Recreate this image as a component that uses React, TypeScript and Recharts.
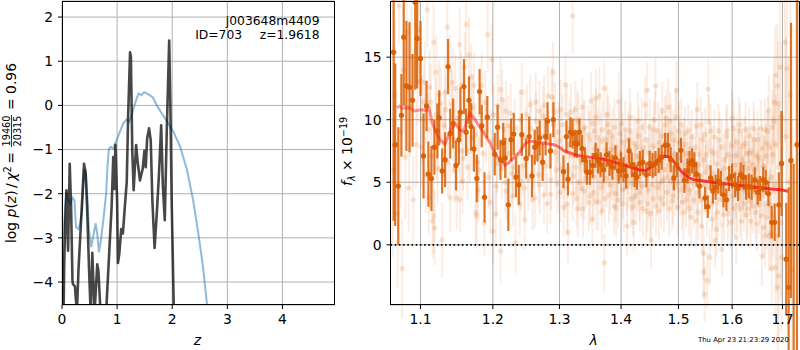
// App.tsx
import React from 'react'
import {
  CartesianGrid,
  ComposedChart,
  ErrorBar,
  Line,
  ReferenceLine,
  Scatter,
  XAxis,
  YAxis,
  ZAxis
} from 'recharts'

// p(z) panel, [z, log p]
const pzPoints = [
  [0, -7], [0.02, -5.5], [0.04, -3.6], [0.06, -2.6], [0.08, -1.92], [0.11, -3.29], [0.14, -1.32], [0.165, -2.3],
  [0.19, -3.97], [0.2, -4.05], [0.235, -4.1], [0.27, -4.7], [0.3, -3.7], [0.34, -2.76], [0.4, -1.32], [0.43, -1.55],
  [0.455, -2.3], [0.49, -3.67], [0.52, -4.7], [0.55, -3.34], [0.59, -4.7], [0.64, -3.6], [0.66, -3.74], [0.7, -4.7],
  [0.8, -4.7], [0.9, -2.3], [0.93, -1.17], [0.95, -1.89], [0.97, -0.89], [1.0, -2.15], [1.015, -3.57], [1.04, -3.36],
  [1.075, -2.8], [1.105, -2.9], [1.14, -2.3], [1.175, -1.73], [1.2, -0.26], [1.235, 1.2], [1.25, 1.1], [1.275, -1.0],
  [1.3, -1.92], [1.345, -0.9], [1.37, -1.24], [1.415, -1.7], [1.465, -1.43], [1.495, -1.03], [1.52, -1.4], [1.545, -0.75],
  [1.58, -0.52], [1.61, -0.79], [1.64, -2.15], [1.68, -3.23], [1.72, -2.45], [1.76, -1.55], [1.8, -0.45], [1.83, -1.81],
  [1.865, -2.6], [1.9, -0.64], [1.945, 1.47], [1.965, 0.12], [1.99, -2.15], [2.03, -4.7], [2.06, -7]
]

// smooth prior curve, [z, log p]
const priorPoints = [
  [0, -5.5], [0.02, -3.06], [0.05, -2.45], [0.08, -1.96], [0.115, -2.15], [0.15, -2.23], [0.19, -2.09], [0.225, -2.15],
  [0.255, -2.76], [0.3, -2.8], [0.335, -2.64], [0.365, -2.38], [0.4, -1.47], [0.43, -1.47], [0.46, -2.08], [0.49, -2.83],
  [0.53, -3.21], [0.565, -2.98], [0.61, -2.67], [0.64, -2.91], [0.67, -3.33], [0.705, -3.06], [0.75, -2.6], [0.8, -2],
  [0.825, -1.4], [0.85, -0.98], [0.89, -0.94], [0.93, -0.98], [0.99, -0.79], [1.05, -0.6], [1.11, -0.41], [1.17, -0.32],
  [1.22, -0.37], [1.265, -0.22], [1.315, 0], [1.355, 0.16], [1.39, 0.27], [1.44, 0.23], [1.49, 0.3], [1.57, 0.25],
  [1.65, 0.18], [1.72, 0], [1.81, -0.18], [1.9, -0.35], [2.025, -0.6], [2.145, -0.94], [2.27, -1.47], [2.38, -2.15],
  [2.48, -2.95], [2.56, -3.67], [2.63, -4.5], [2.68, -5]
]

// faint individual beams, [lambda, flux, err]
const faintPoints = [
  [1.064, 6, 7], [1.067, 12, 6], [1.07, 2.5, 6], [1.072, 19.1, 3], [1.074, 9, 6], [1.076, -1.9, 4], [1.078, 14, 5],
  [1.08, 7, 5], [1.082, 17, 5], [1.0845, 4.55, 3.5], [1.086, 11, 4], [1.088, 15, 4], [1.0905, 3.6, 3.5], [1.0945, 8, 3.5],
  [1.096, 13, 3.5], [1.098, 17.2, 3.5], [1.102, 10, 3.5], [1.106, 13, 3.2], [1.109, 18.8, 3], [1.1135, 11.4, 3],
  [1.116, 1.9, 3], [1.1175, 2.3, 3], [1.1175, 16.2, 3], [1.1188, 1.35, 3], [1.122, 8, 2.8], [1.125, 12, 2.8], [1.129, 0.4, 3],
  [1.132, 9.5, 2.8], [1.136, 17.4, 3], [1.139, 14, 2.8], [1.14, 3.75, 2.8], [1.143, 13, 2.8], [1.146, 6, 2.6], [1.1488, 3.75, 2.6],
  [1.1533, 3.6, 2.6], [1.153, 16, 3], [1.156, 7.5, 2.6], [1.16, 14.2, 2.8], [1.162, 17.6, 3], [1.164, 6.2, 2.6], [1.166, 15.2, 3],
  [1.17, 8.5, 2.6], [1.173, 12.75, 2.6], [1.1755, 2.6, 2.6], [1.1765, 2.35, 2.6], [1.18, 6, 2.6], [1.184, 12.75, 2.6], [1.188, 1.75, 2.6],
  [1.1925, 16.8, 3], [1.1985, 14.8, 2.8], [1.2, 1.1, 2.6], [1.204, 2.45, 2.6], [1.206, 6.5, 2.4], [1.2112, 12.4, 2.6], [1.2112, -0.5, 2.6],
  [1.2135, 11.6, 2.4], [1.218, 5, 2.4], [1.222, 9.5, 2.4], [1.226, 10.5, 2.4], [1.23, 6.2, 2.4], [1.233, 0.15, 2.4], [1.2395, 3.25, 2.4],
  [1.2425, 12.2, 2.4], [1.2468, 2, 2.4], [1.2468, 4.55, 2.4], [1.25, 10.4, 2.4], [1.2585, 3.6, 2.4], [1.262, 3.75, 2.4], [1.2635, 11.4, 2.4],
  [1.267, 7, 2.4], [1.27, 4.8, 2.4], [1.2765, 11.15, 2.4], [1.276, 4, 2.4], [1.2825, 11.9, 2.4], [1.286, 4.05, 2.4], [1.288, 11.8, 2.4],
  [1.29, 13.8, 2.4], [1.295, 6, 2.4], [1.298, 9, 2.4], [1.302, 10.8, 2.4], [1.3065, 3, 2.4], [1.3095, 12.8, 2.4], [1.312, 3.25, 2.4],
  [1.3135, 1, 2.4], [1.315, 8, 2.4], [1.318, 10.6, 2.3], [1.3207, 18.3, 3], [1.322, 5.5, 2.3], [1.325, 10.8, 2.3], [1.327, 3.7, 2.3],
  [1.33, 9.8, 2.3], [1.332, 7, 2.3], [1.3345, 4.5, 2.3], [1.3373, 2.9, 2.3], [1.34, 9.4, 2.3], [1.342, 5.3, 2.3], [1.3467, 3.4, 2.3],
  [1.348, 8.4, 2.3], [1.35, 11.5, 2.3], [1.3525, 2.05, 2.3], [1.354, 4.2, 2.3], [1.356, 9.1, 2.3], [1.3585, 11.7, 2.3], [1.36, 6, 2.3],
  [1.362, 3.4, 2.3], [1.364, 11.9, 2.3], [1.366, 8.3, 2.3], [1.368, 2.7, 2.3], [1.37, 5, 2.3], [1.372, 12.5, 2.3], [1.372, -1.45, 2.3],
  [1.375, 7.6, 2.3], [1.378, 9.6, 2.3], [1.38, 4, 2.3], [1.383, 6.4, 2.3], [1.386, 8.7, 2.3], [1.388, 3.1, 2.3], [1.3915, 2.95, 2.3],
  [1.393, 5.4, 2.3], [1.396, 11.45, 2.3], [1.398, 7.3, 2.3], [1.401, 9.7, 2.3], [1.403, 4.4, 2.3], [1.406, 6.6, 2.3], [1.41, 1.5, 2.3],
  [1.412, 8.4, 2.3], [1.415, 10.2, 2.3], [1.417, 3.7, 2.3], [1.4215, 1.8, 2.3], [1.423, 5.3, 2.3], [1.426, 7.8, 2.3], [1.429, 9.9, 2.3],
  [1.431, 4.2, 2.3], [1.434, 6.2, 2.3], [1.437, 2.9, 2.3], [1.441, 11.2, 2.3], [1.4445, 12.35, 2.3], [1.445, 3.3, 2.3], [1.448, 7.4, 2.3],
  [1.4518, 0.35, 2.3], [1.453, 4.8, 2.3], [1.456, 9.2, 2.3], [1.4593, 12.7, 2.3], [1.46, 3.1, 2.3], [1.463, 5.9, 2.3], [1.466, 8.2, 2.3],
  [1.469, 3.7, 2.3], [1.4712, 10.7, 2.3], [1.473, 5.2, 2.3], [1.476, 9.6, 2.3], [1.479, 4.2, 2.3], [1.4816, 11, 2.3], [1.484, 6.4, 2.3],
  [1.487, 8.9, 2.3], [1.49, 3.9, 2.3], [1.493, 7.3, 2.3], [1.4965, 12.35, 2.3], [1.498, 5, 2.3], [1.501, 9.1, 2.3], [1.504, 6.8, 2.2],
  [1.507, 3.4, 2.2], [1.51, 8, 2.2], [1.513, 4.7, 2.2], [1.516, 6, 2.2], [1.519, 2.9, 2.2], [1.522, 7.7, 2.2], [1.525, 5, 2.2],
  [1.5325, 1.9, 2.2], [1.5345, 10.8, 2.2], [1.537, 6.4, 2.2], [1.5425, 1.5, 2.2], [1.544, 8.4, 2.2], [1.546, -0.7, 2.2], [1.546, -2.15, 2.2],
  [1.548, -3.95, 2.2], [1.55, 5.8, 2.2], [1.553, -2.85, 2.2], [1.5547, 12.45, 2.4], [1.5575, -1, 2.2], [1.559, 9.1, 2.2], [1.5618, 2.05, 2.2],
  [1.565, 7.3, 2.2], [1.568, 0.35, 2.2], [1.5705, 1.25, 2.2], [1.573, 5.4, 2.2], [1.576, 8.4, 2.2], [1.5805, -0.35, 2.2], [1.583, 3.6, 2.2],
  [1.586, 6.1, 2.2], [1.589, 8.7, 2.2], [1.592, 2.5, 2.2], [1.595, 5, 2.2], [1.6, 10.15, 2.2], [1.602, 3.9, 2.2], [1.605, 7.1, 2.2],
  [1.608, 0.6, 2.2], [1.611, 5.8, 2.2], [1.6136, 9.6, 2.2], [1.616, 2.9, 2.2], [1.619, 6.8, 2.2], [1.622, 4.4, 2.2], [1.625, 8.1, 2.2],
  [1.628, 2.4, 2.2], [1.631, 5.4, 2.2], [1.634, 7.3, 2.2], [1.637, 3.5, 2.2], [1.64, 6.4, 2.2], [1.643, 8.4, 2.2], [1.646, 2.6, 2.2],
  [1.649, 5.2, 2.2], [1.652, 7, 2.4], [1.655, 4, 2.4], [1.6585, -0.9, 2.4], [1.661, 6.3, 2.5], [1.665, 0.7, 2.5], [1.668, 8.1, 2.6],
  [1.672, 10.75, 2.8], [1.6725, 0.7, 2.8], [1.675, 3.2, 2.8], [1.678, -1.9, 3], [1.679, 9.4, 3], [1.683, 11.4, 3.5], [1.6855, 13.55, 4],
  [1.6855, -1.8, 4], [1.6895, 12.7, 5], [1.69, -3.4, 5], [1.691, 11.3, 5], [1.692, -2.5, 5], [1.698, 10.2, 6], [1.698, -1, 6],
  [1.705, 16.2, 8], [1.707, 8.65, 8], [1.709, 14.1, 9], [1.712, 5, 10], [1.716, 12, 12], [1.72, -2, 12]
]

// the dense part of the beam cloud, same columns
const faintCloud = [
  [1.101, 7.8, 3.2], [1.104, 11.4, 3.1], [1.107, 5.6, 3.1], [1.11, 9.2, 3], [1.112, 12.6, 3], [1.115, 7.1, 3], [1.12, 10.4, 2.9], [1.123, 6.1, 2.9],
  [1.127, 11.3, 2.9], [1.13, 8.2, 2.8], [1.134, 10.8, 2.8], [1.137, 6.6, 2.8], [1.142, 11.2, 2.7], [1.145, 8.4, 2.7], [1.15, 10.1, 2.7], [1.155, 12.8, 2.7],
  [1.158, 6.9, 2.6], [1.161, 9.9, 2.6], [1.167, 7.5, 2.6], [1.171, 11, 2.6], [1.175, 8.8, 2.6], [1.178, 6.6, 2.6], [1.182, 10.4, 2.5], [1.186, 7.3, 2.5],
  [1.19, 9.1, 2.5], [1.194, 5.4, 2.5], [1.197, 8.3, 2.5], [1.201, 10.4, 2.5], [1.205, 4.7, 2.4], [1.209, 8, 2.4], [1.213, 6.1, 2.4], [1.216, 9.2, 2.4],
  [1.22, 4.3, 2.4], [1.224, 7.3, 2.4], [1.228, 5.7, 2.4], [1.232, 9.3, 2.4], [1.236, 7.2, 2.4], [1.24, 10, 2.4], [1.244, 6.3, 2.4], [1.248, 8.5, 2.4],
  [1.252, 5.2, 2.4], [1.256, 9.3, 2.4], [1.26, 6.9, 2.4], [1.264, 9.9, 2.4], [1.268, 5.6, 2.4], [1.272, 8.7, 2.4], [1.275, 10.3, 2.4], [1.279, 6.3, 2.4],
  [1.283, 8.4, 2.4], [1.287, 5.2, 2.4], [1.291, 9.6, 2.4], [1.294, 7.4, 2.4], [1.297, 4.9, 2.4], [1.3, 8.3, 2.4], [1.303, 6.1, 2.4], [1.305, 9.6, 2.4],
  [1.308, 4.6, 2.4], [1.31, 7.4, 2.4], [1.313, 6, 2.3], [1.316, 9.3, 2.3], [1.319, 7.1, 2.3], [1.321, 4.1, 2.3], [1.323, 8.8, 2.3], [1.326, 6.2, 2.3],
  [1.328, 10, 2.3], [1.331, 5, 2.3], [1.333, 8.2, 2.3], [1.335, 6.6, 2.3], [1.338, 9.2, 2.3], [1.339, 4.3, 2.3], [1.341, 7.2, 2.3], [1.344, 5.9, 2.3],
  [1.346, 8.8, 2.3], [1.349, 3.9, 2.3], [1.351, 6.8, 2.3], [1.353, 9.7, 2.3], [1.355, 5.4, 2.3], [1.357, 7.7, 2.3], [1.359, 3.5, 2.3], [1.361, 8.6, 2.3],
  [1.363, 5.9, 2.3], [1.365, 7.1, 2.3], [1.367, 4.6, 2.3], [1.369, 9.2, 2.3], [1.371, 6.4, 2.3], [1.373, 3.7, 2.3], [1.374, 8.4, 2.3], [1.376, 5.3, 2.3],
  [1.379, 6.9, 2.3], [1.381, 9, 2.3], [1.382, 4.8, 2.3], [1.384, 7.6, 2.3], [1.385, 5.8, 2.3], [1.387, 6.3, 2.3], [1.389, 9.4, 2.3], [1.391, 4.1, 2.3],
  [1.392, 7.8, 2.3], [1.394, 6.2, 2.3], [1.395, 3.6, 2.3], [1.397, 8.9, 2.3], [1.399, 5.4, 2.3], [1.4, 6.7, 2.3], [1.402, 8.2, 2.3], [1.404, 3.3, 2.3],
  [1.405, 5.8, 2.3], [1.407, 9.2, 2.3], [1.408, 7, 2.3], [1.41, 4.6, 2.3], [1.411, 6.3, 2.3], [1.413, 5.2, 2.3], [1.414, 7.7, 2.3], [1.416, 9.1, 2.3],
  [1.418, 4.9, 2.3], [1.419, 6.7, 2.3], [1.42, 3, 2.3], [1.422, 8.1, 2.3], [1.424, 5.9, 2.3], [1.425, 3.9, 2.3], [1.427, 7.1, 2.3], [1.428, 5, 2.3],
  [1.43, 8.7, 2.3], [1.432, 3.4, 2.3], [1.433, 6.9, 2.3], [1.435, 9.4, 2.3], [1.436, 4.7, 2.3], [1.438, 7.7, 2.3], [1.44, 5.7, 2.3], [1.442, 8.4, 2.3],
  [1.443, 2.7, 2.3], [1.446, 6.3, 2.3], [1.447, 4.4, 2.3], [1.449, 9.4, 2.3], [1.45, 2.5, 2.3], [1.452, 6.9, 2.3], [1.454, 7.9, 2.3], [1.455, 3.7, 2.3],
  [1.457, 5.6, 2.3], [1.458, 10, 2.3], [1.461, 7.1, 2.3], [1.462, 4.6, 2.3], [1.464, 9.1, 2.3], [1.465, 2.7, 2.3], [1.467, 6.6, 2.3], [1.468, 5, 2.3],
  [1.47, 8.7, 2.3], [1.472, 7.2, 2.3], [1.474, 3.3, 2.3], [1.475, 6, 2.3], [1.477, 8.1, 2.3], [1.478, 10.1, 2.3], [1.48, 5.4, 2.3], [1.482, 7.5, 2.3],
  [1.483, 2.9, 2.3], [1.485, 9.9, 2.3], [1.486, 5.1, 2.3], [1.488, 7.1, 2.3], [1.489, 3.5, 2.3], [1.491, 8.4, 2.3], [1.492, 6.1, 2.3], [1.494, 4.6, 2.3],
  [1.495, 10.2, 2.3], [1.497, 7, 2.3], [1.499, 3, 2.3], [1.5, 6, 2.3], [1.502, 8.2, 2.2], [1.503, 4.4, 2.2], [1.505, 9.6, 2.2], [1.506, 5.5, 2.2],
  [1.508, 7.2, 2.2], [1.509, 2.6, 2.2], [1.511, 6.4, 2.2], [1.512, 8.9, 2.2], [1.514, 3.6, 2.2], [1.515, 7.3, 2.2], [1.517, 5.2, 2.2], [1.518, 9.1, 2.2],
  [1.52, 4.4, 2.2], [1.521, 6.1, 2.2], [1.523, 2.2, 2.2], [1.524, 8.6, 2.2], [1.526, 6.7, 2.2], [1.528, 3.6, 2.2], [1.53, 5.4, 2.2], [1.531, 7.8, 2.2],
  [1.533, 9.5, 2.2], [1.535, 4.2, 2.2], [1.536, 2.6, 2.2], [1.538, 7.2, 2.2], [1.54, 5.5, 2.2], [1.541, 9.6, 2.2], [1.543, 3.6, 2.2], [1.545, 6.8, 2.2],
  [1.547, 4.8, 2.2], [1.549, 8.8, 2.2], [1.551, 7.2, 2.2], [1.552, 2.8, 2.2], [1.554, 6.2, 2.2], [1.556, 9.8, 2.2], [1.558, 4.6, 2.2], [1.56, 7.5, 2.2],
  [1.563, 3.3, 2.2], [1.564, 5.7, 2.2], [1.566, 8.6, 2.2], [1.569, 4.2, 2.2], [1.571, 6.5, 2.2], [1.572, 2.6, 2.2], [1.574, 9.1, 2.2], [1.577, 3.6, 2.2],
  [1.578, 5.9, 2.2], [1.58, 7.8, 2.2], [1.582, 4.5, 2.2], [1.584, 2.4, 2.2], [1.585, 6.8, 2.2], [1.588, 5.2, 2.2], [1.59, 9.1, 2.2], [1.591, 3.6, 2.2],
  [1.593, 7.2, 2.2], [1.596, 6.1, 2.2], [1.597, 1.8, 2.2], [1.599, 7.9, 2.2], [1.601, 5, 2.2], [1.603, 9.3, 2.2], [1.604, 2.9, 2.2], [1.606, 6.4, 2.2],
  [1.607, 4.3, 2.2], [1.609, 8.2, 2.2], [1.61, 3.2, 2.2], [1.612, 7.2, 2.2], [1.614, 4.8, 2.2], [1.615, 9.1, 2.2], [1.617, 5.6, 2.2], [1.618, 1.9, 2.2],
  [1.62, 7.9, 2.2], [1.621, 5, 2.2], [1.623, 3.3, 2.2], [1.624, 6.5, 2.2], [1.626, 9.2, 2.2], [1.627, 4.2, 2.2], [1.629, 7.3, 2.2], [1.63, 2.9, 2.2],
  [1.632, 6.1, 2.2], [1.633, 8.7, 2.2], [1.635, 4.6, 2.2], [1.636, 1.9, 2.2], [1.638, 7.5, 2.2], [1.639, 5.1, 2.2], [1.641, 3.1, 2.2], [1.642, 9.3, 2.2],
  [1.644, 6, 2.2], [1.645, 4.2, 2.2], [1.647, 7.1, 2.2], [1.648, 1.7, 2.2], [1.65, 8.4, 2.3], [1.651, 5.3, 2.3], [1.653, 3.2, 2.3], [1.654, 6.7, 2.3],
  [1.656, 9.3, 2.3], [1.657, 2.3, 2.4], [1.659, 7.7, 2.4], [1.66, 4.7, 2.4], [1.662, 1.4, 2.5], [1.663, 6.2, 2.5], [1.664, 9.2, 2.5], [1.666, 3.3, 2.5],
  [1.667, 7.1, 2.6], [1.669, 2.2, 2.6], [1.67, 9.1, 2.7], [1.671, 5.2, 2.7], [1.674, 7.8, 2.8], [1.676, 0.9, 2.9], [1.677, 5.4, 3], [1.68, 7.2, 3.2],
  [1.681, 2.3, 3.3], [1.682, 9.9, 3.4], [1.684, 4.8, 3.6], [1.686, 8, 4], [1.688, 0.7, 4.5], [1.693, 6.2, 5], [1.695, 14.2, 6], [1.697, 1.8, 6],
  [1.1, 13.1, 3.2], [1.111, 3.8, 3], [1.121, 13.8, 2.9], [1.133, 12.2, 2.8], [1.147, 12.5, 2.7], [1.157, 5.1, 2.6], [1.169, 13.4, 2.6], [1.179, 4.4, 2.6],
  [1.189, 11.4, 2.5], [1.196, 3.4, 2.5], [1.207, 11.1, 2.5], [1.219, 10.7, 2.4], [1.229, 3.9, 2.4], [1.241, 5.1, 2.4], [1.255, 11.2, 2.4], [1.269, 10.7, 2.4],
  [1.281, 3.3, 2.4], [1.293, 10.6, 2.4], [1.301, 4.2, 2.4], [1.311, 10.4, 2.4], [1.329, 2.9, 2.3], [1.336, 11, 2.3], [1.358, 10.2, 2.3], [1.377, 10.4, 2.3]
]

// binned spectrum, [lambda, flux, err]
const darkPoints = [
  [1.065, 15.4, 13.5], [1.067, 8, 6.5], [1.071, 4.7, 4.7], [1.075, 10.35, 3.3], [1.078, 16.6, 5.5], [1.0815, 12.7, 5.2], [1.0855, 12.6, 5.2],
  [1.0895, 11.55, 3.7], [1.093, 19.4, 7], [1.0955, 16.5, 4], [1.1, 14.9, 3], [1.104, 7.1, 3.4], [1.108, 11.1, 2], [1.1105, 5.65, 2.6],
  [1.1145, 5.3, 2.6], [1.1185, 7.8, 2.2], [1.1225, 9.1, 2.2], [1.125, 10.15, 2.2], [1.129, 5.9, 1.8], [1.133, 6.8, 2.2], [1.137, 14.25, 2.2],
  [1.14, 8.9, 2], [1.144, 9.7, 2], [1.148, 6.35, 2], [1.152, 8.4, 2], [1.154, 10.6, 2], [1.159, 12.65, 2.2], [1.162, 9, 1.9], [1.166, 11.55, 1.9],
  [1.169, 9.45, 1.9], [1.173, 7.65, 1.8], [1.177, 5.3, 1.9], [1.181, 12.25, 1.8], [1.184, 9.5, 1.7], [1.188, 3.8, 2], [1.192, 10.2, 1.7],
  [1.2027, 7.25, 1.7], [1.2068, 9.4, 1.8], [1.211, 6.8, 1.6], [1.215, 8.15, 1.6], [1.218, 6.95, 1.6], [1.2225, 3.2, 2.1], [1.2265, 8.4, 1.7],
  [1.2305, 8.85, 1.7], [1.2338, 5.4, 1.6], [1.238, 4.8, 1.6], [1.2425, 8.8, 1.7], [1.249, 6.9, 1.6], [1.2535, 8.65, 1.6], [1.2578, 5.5, 1.7],
  [1.262, 7.8, 1.4], [1.266, 8.05, 1.4], [1.2695, 8.55, 1.4], [1.274, 6.6, 1.5], [1.2785, 8.65, 1.5], [1.2815, 9.9, 1.5], [1.286, 7.5, 1.4],
  [1.2905, 10, 1.4], [1.3063, 5.85, 1.3], [1.311, 8.65, 1.3], [1.3135, 5.25, 1.3], [1.3173, 9, 1.2], [1.3207, 8.9, 1.2], [1.3245, 8.1, 1.1],
  [1.3276, 8.05, 1.1], [1.3316, 9, 1.1], [1.3358, 7.7, 1.1], [1.3402, 6.8, 1], [1.3438, 5.8, 1], [1.3486, 5.8, 1], [1.353, 6.35, 1],
  [1.3578, 7.15, 1], [1.362, 6.7, 1], [1.366, 6.4, 1], [1.371, 6, 1], [1.3758, 7.2, 1], [1.3806, 6.5, 1], [1.3855, 6.2, 1], [1.3905, 6.95, 1],
  [1.396, 5.9, 1], [1.4, 6.4, 1], [1.404, 6, 1], [1.4085, 5.5, 1], [1.4136, 7.5, 1], [1.418, 6.4, 1], [1.423, 5.6, 1], [1.427, 5.4, 1],
  [1.432, 6.5, 1], [1.437, 6.6, 1], [1.4432, 5.6, 1], [1.449, 6.5, 1], [1.4541, 6.35, 1], [1.459, 6.5, 1], [1.4648, 6.75, 1], [1.47, 7, 1],
  [1.476, 7.95, 1], [1.481, 7.95, 1], [1.486, 6.8, 1], [1.4917, 5.35, 1], [1.497, 6.4, 1], [1.5045, 7.55, 1], [1.5107, 5.15, 1],
  [1.5165, 5.9, 1], [1.5202, 6.5, 1], [1.525, 6.7, 1], [1.529, 6.4, 1], [1.533, 5.65, 1], [1.5385, 4.7, 1], [1.5488, 3.75, 0.9], [1.5539, 3.05, 0.9],
  [1.5591, 5.35, 1], [1.5635, 4.3, 1], [1.5685, 4.6, 1], [1.5735, 5.1, 1], [1.5785, 4.9, 1], [1.5835, 4, 1], [1.589, 3.6, 0.9], [1.594, 5.3, 1],
  [1.6, 5.5, 1], [1.606, 4.8, 1], [1.6115, 4.5, 1], [1.6165, 5.6, 1], [1.622, 5.4, 1], [1.627, 4.6, 1], [1.6325, 4.7, 1], [1.638, 4.6, 1],
  [1.644, 5.2, 1], [1.65, 4.2, 1], [1.655, 4.5, 1], [1.661, 5.2, 1], [1.666, 5, 1], [1.6715, 4.1, 1], [1.678, 1.8, 1.3], [1.684, 1.8, 1.5],
  [1.6925, 3.2, 2.6], [1.698, 6.5, 4.2], [1.7075, -1.15, 4.5], [1.7126, -3.4, 8], [1.7174, 6.75, 11], [1.7229, -6, 12.5], [1.7297, 8, 25]
]

// fitted model, [lambda, flux]
const modelPoints = [
  [1.0687, 10.96], [1.0722, 11.07], [1.0766, 10.9], [1.0809, 10.96], [1.0852, 10.95], [1.0917, 10.7], [1.1004, 10.8], [1.108, 10.75], [1.1115, 10.9],
  [1.116, 9.73], [1.1204, 9], [1.127, 8.34], [1.1328, 8.07], [1.1368, 8.6], [1.1428, 9.4], [1.148, 9.63], [1.1541, 9.14], [1.1587, 9.09], [1.1633, 9.95],
  [1.167, 10.5], [1.1726, 10.16], [1.1797, 9.55], [1.1893, 8.74], [1.1967, 8.07], [1.204, 7.14], [1.2104, 6.87], [1.2174, 6.34], [1.2239, 6.6],
  [1.2315, 7], [1.2392, 7.4], [1.2469, 8.07], [1.2547, 8.3], [1.2651, 8.2], [1.2757, 8.13], [1.2917, 8], [1.3, 7.8], [1.3063, 7.54], [1.3135, 7.4],
  [1.3243, 7.2], [1.3402, 7.05], [1.3578, 6.95], [1.3742, 6.8], [1.396, 6.5], [1.4129, 6.25], [1.43, 6], [1.4427, 5.93], [1.4536, 6.34], [1.4648, 6.8],
  [1.4754, 7.1], [1.4856, 7], [1.4945, 6.47], [1.5065, 5.8], [1.5176, 5.4], [1.5281, 5.2], [1.544, 5.13], [1.569, 4.97], [1.594, 4.84], [1.619, 4.73],
  [1.6454, 4.6], [1.672, 4.49], [1.6988, 4.39], [1.7108, 4.28]
]

const zTicks = [0, 1, 2, 3, 4]
const logPTicks = [-4, -3, -2, -1, 0, 1, 2]
const lambdaTicks = [1.1, 1.2, 1.3, 1.4, 1.5, 1.6, 1.7]
const fluxTicks = [0, 5, 10, 15]

const pzData = pzPoints.map(([x, y]) => ({ x, y }))
const priorData = priorPoints.map(([x, y]) => ({ x, y }))
const faintData = [...faintPoints, ...faintCloud].map(([x, y, e]) => ({ x, y, e }))
const darkData = darkPoints.map(([x, y, e]) => ({ x, y, e }))
const modelData = modelPoints.map(([x, y]) => ({ x, y }))

const FONT = '"DejaVu Sans", sans-serif'
const tickStyle = { fill: '#000', fontSize: 13.9, fontFamily: FONT }
const minus = (v: number) => String(v).replace('-', '\u2212')
const oneDecimal = (v: number) => v.toFixed(1)

const frame = (left: number, width: number): React.CSSProperties => ({
  position: 'absolute',
  left,
  top: 1,
  width,
  height: 304,
  boxSizing: 'border-box',
  border: '1px solid #000',
  pointerEvents: 'none'
})

function Labels() {
  return (
    <svg
      width={800}
      height={350}
      style={{ position: 'absolute', left: 0, top: 0, pointerEvents: 'none' }}
      fontFamily={FONT}
      fill="#000"
    >
      <text x={319.5} y={24.5} fontSize={12.3} textAnchor="end">j003648m4409</text>
      <text x={319.5} y={39} fontSize={12.3} textAnchor="end" wordSpacing={0.5} xmlSpace="preserve">ID=703    z=1.9618</text>

      <text x={197.5} y={345} fontSize={13.9} fontStyle="italic" textAnchor="middle">z</text>
      <text x={593.5} y={345} fontSize={13.9} fontStyle="italic" textAnchor="middle">λ</text>
      <text x={698} y={342} fontSize={6.9}>Thu Apr 23 21:23:29 2020</text>

      <g transform="translate(16,243) rotate(-90)">
        <text x={0} y={0} fontSize={13.9} xmlSpace="preserve">
          log <tspan fontStyle="italic">p</tspan>(<tspan fontStyle="italic">z</tspan>)<tspan dx={2.5}>/</tspan><tspan dx={2.5} fontStyle="italic">χ</tspan>
          <tspan dy={-5} fontSize={9.7}>2</tspan>
          <tspan dy={5} dx={2.5}>=</tspan>
        </text>
        <text x={112} y={-6} fontSize={9.7} textAnchor="middle">19460</text>
        <line x1={96} x2={128} y1={-4.5} y2={-4.5} stroke="#000" strokeWidth={0.8} />
        <text x={112} y={5} fontSize={9.7} textAnchor="middle">20315</text>
        <text x={133} y={0} fontSize={13.9}>= 0.96</text>
      </g>

      <g transform="translate(352,186) rotate(-90)">
        <text x={0} y={0} fontSize={13.9} xmlSpace="preserve">
          <tspan fontStyle="italic">f</tspan>
          <tspan dy={3} fontSize={9.7} fontStyle="italic">λ</tspan>
          <tspan dy={-3}> × 10</tspan>
          <tspan dy={-5} fontSize={9.7}>−19</tspan>
        </text>
      </g>
    </svg>
  )
}

export default function App() {
  return (
    <div style={{ position: 'absolute', left: 0, top: 0, width: 800, height: 350, background: '#fff' }}>
      <div style={{ position: 'absolute', left: 0, top: 0 }}>
        <ComposedChart width={340} height={350} margin={{ top: 1, right: 5.5, bottom: 0, left: 0 }}>
          <CartesianGrid stroke="#b0b0b0" strokeWidth={1} />
          <XAxis
            dataKey="x"
            type="number"
            domain={[0, 4.945]}
            ticks={zTicks}
            interval={0}
            allowDataOverflow
            height={45}
            axisLine={false}
            tickLine={{ stroke: '#000' }}
            tickSize={4}
            tickMargin={5}
            tick={tickStyle}
          />
          <YAxis
            dataKey="y"
            type="number"
            domain={[-4.52, 2.364]}
            ticks={logPTicks}
            interval={0}
            allowDataOverflow
            width={62}
            axisLine={false}
            tickLine={{ stroke: '#000' }}
            tickSize={4}
            tickMargin={5}
            tick={tickStyle}
            tickFormatter={minus}
          />
          <Line
            data={priorData}
            dataKey="y"
            dot={false}
            stroke="#1f77b4"
            strokeOpacity={0.5}
            strokeWidth={2}
            isAnimationActive={false}
          />
          <Line
            data={pzData}
            dataKey="y"
            dot={false}
            stroke="#000"
            strokeOpacity={0.72}
            strokeWidth={2.6}
            strokeLinejoin="round"
            isAnimationActive={false}
          />
        </ComposedChart>
      </div>

      <div style={{ position: 'absolute', left: 340, top: 0 }}>
        <ComposedChart width={460} height={350} margin={{ top: 1, right: 1, bottom: 0, left: 0 }}>
          <defs>
            {/* the model reads paler at the blue end of the spectrum */}
            <linearGradient id="modelFade" x1="0" y1="0" x2="1" y2="0">
              <stop offset="0" stopColor="#ff1010" stopOpacity={0.4} />
              <stop offset="0.35" stopColor="#ff1010" stopOpacity={0.5} />
              <stop offset="0.6" stopColor="#ff1010" stopOpacity={0.8} />
              <stop offset="1" stopColor="#ff1010" stopOpacity={0.8} />
            </linearGradient>
          </defs>
          <CartesianGrid stroke="#b0b0b0" strokeWidth={1} />
          <XAxis
            dataKey="x"
            type="number"
            scale="log"
            domain={[1.061, 1.734]}
            ticks={lambdaTicks}
            interval={0}
            allowDataOverflow
            height={45}
            axisLine={false}
            tickLine={{ stroke: '#000' }}
            tickSize={4}
            tickMargin={5}
            tick={tickStyle}
            tickFormatter={oneDecimal}
          />
          <YAxis
            dataKey="y"
            type="number"
            domain={[-4.81, 19.49]}
            ticks={fluxTicks}
            interval={0}
            allowDataOverflow
            width={50.5}
            axisLine={false}
            tickLine={{ stroke: '#000' }}
            tickSize={4}
            tickMargin={5}
            tick={tickStyle}
          />
          <ZAxis range={[22, 22]} />
          <Scatter data={faintData} dataKey="y" fill="rgba(217,95,2,0.16)" isAnimationActive={false}>
            <ErrorBar dataKey="e" direction="y" width={0} stroke="rgba(217,95,2,0.11)" strokeWidth={2} isAnimationActive={false} />
          </Scatter>
          <Scatter data={darkData} dataKey="y" fill="#d95f02" fillOpacity={0.95} isAnimationActive={false}>
            <ErrorBar dataKey="e" direction="y" width={0} stroke="rgba(217,95,2,0.85)" strokeWidth={2.2} isAnimationActive={false} />
          </Scatter>
          <ReferenceLine y={0} stroke="#000" strokeWidth={1.6} strokeDasharray="1.6 2.6" />
          <Line
            data={modelData}
            dataKey="y"
            dot={false}
            stroke="url(#modelFade)"
            strokeWidth={3}
            isAnimationActive={false}
          />
        </ComposedChart>
      </div>

      <div style={frame(62, 273)} />
      <div style={frame(390, 410)} />
      <Labels />
    </div>
  )
}
